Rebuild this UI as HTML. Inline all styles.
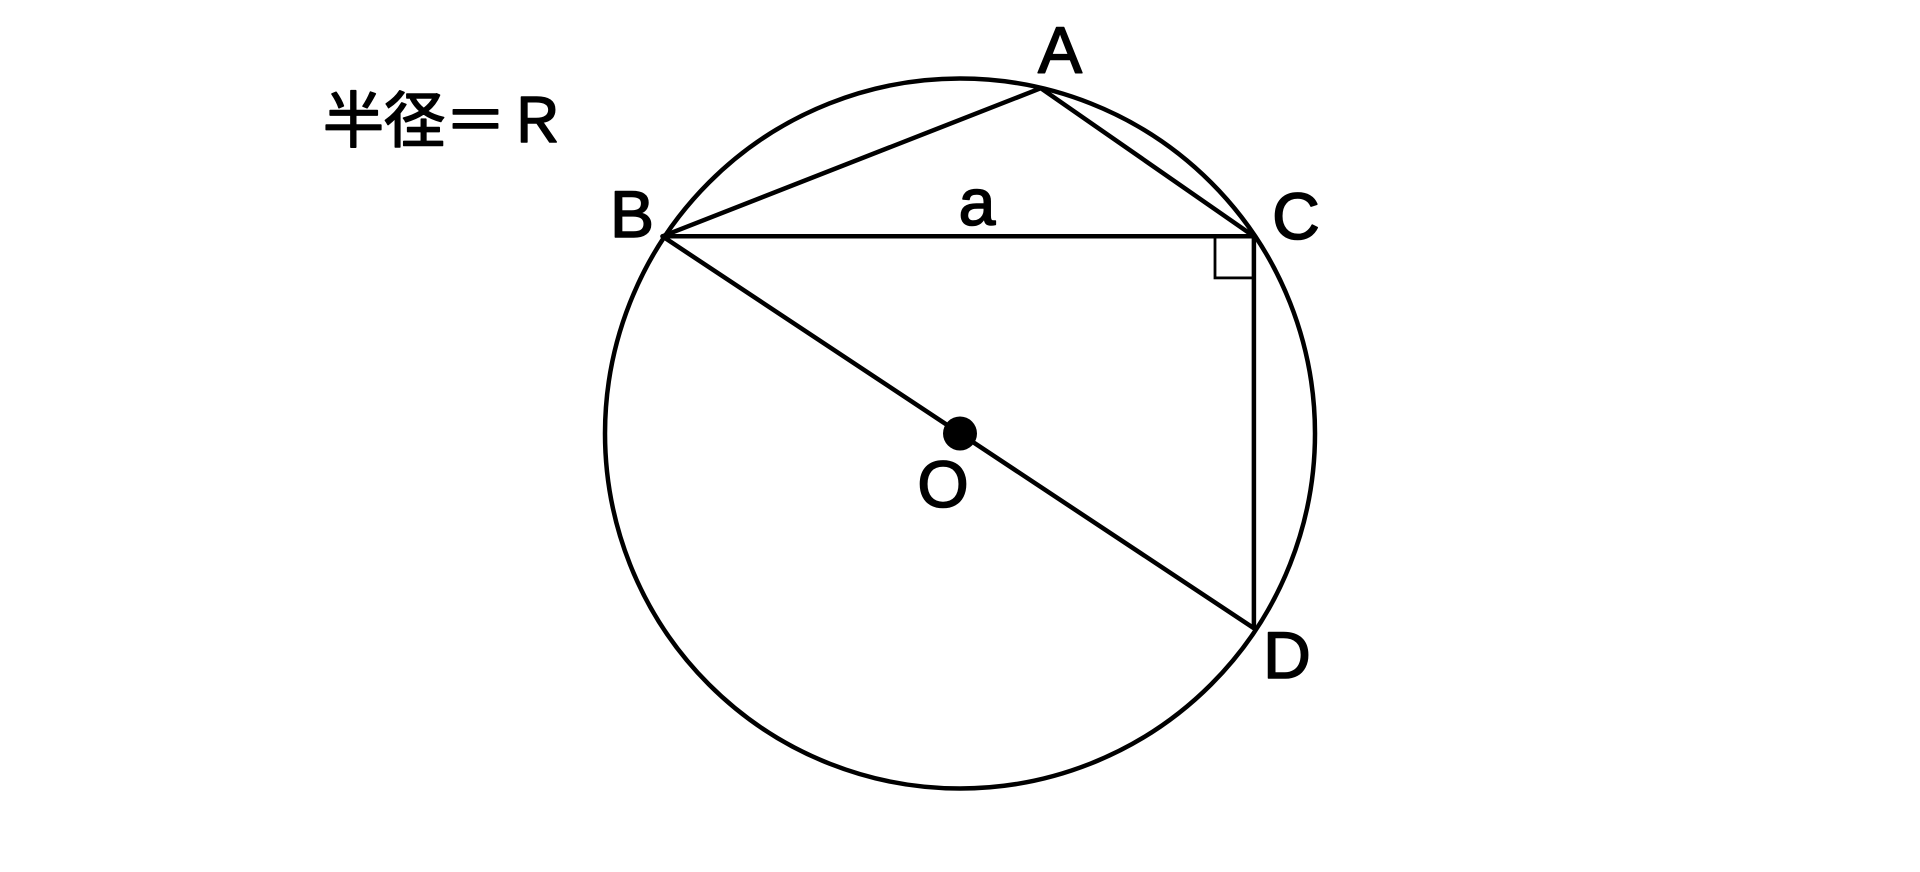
<!DOCTYPE html>
<html><head><meta charset="utf-8"><style>
html,body{margin:0;padding:0;background:#fff;}
svg text{font-family:"Liberation Sans","Noto Sans CJK JP",sans-serif;fill:#000;stroke:#000;stroke-width:1.6;stroke-linejoin:round;}
</style></head><body>
<svg width="1920" height="867" viewBox="0 0 1920 867" xmlns="http://www.w3.org/2000/svg">
<rect width="1920" height="867" fill="#fff"/>
<g fill="none" stroke="#000" stroke-width="4.5" stroke-linejoin="round">
<circle cx="960" cy="433.5" r="355"/>
<polyline points="662.4,236.3 1040.8,88.2 1253.9,236.3 662.4,236.3 1253.9,628.2 1253.9,236.3"/>
</g>
<rect x="1215" y="236.3" width="38.9" height="41.6" fill="none" stroke="#000" stroke-width="2.8"/>
<circle cx="960" cy="433.5" r="17" fill="#000"/>
<text x="323" y="142" font-size="61" style="font-family:'Noto Sans CJK JP',sans-serif">半径＝Ｒ</text>
<g font-size="66" text-anchor="middle">
<text x="1060" y="73">A</text>
<text x="632" y="237">B</text>
<text x="1296" y="239">C</text>
<text x="1287" y="678">D</text>
<text x="943" y="507">O</text>
<text x="977" y="225">a</text>
</g>
</svg>
</body></html>
